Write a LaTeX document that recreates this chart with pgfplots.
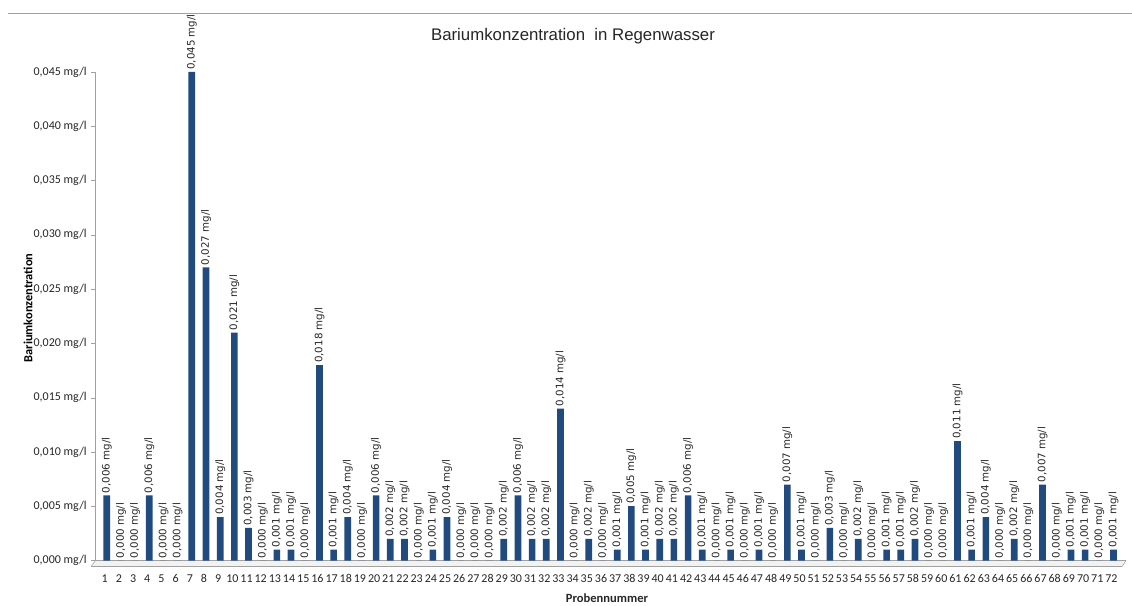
\documentclass[border=0pt]{standalone}
\usepackage{fontspec}
\setmainfont{Carlito}
\newfontfamily\barfont{DejaVu Sans}
\newfontfamily\titlefont{Liberation Sans}
\usepackage{pgfplots}
\usepackage{pgfplotstable}
\pgfplotsset{compat=1.18}
\definecolor{barblue}{RGB}{33,74,126}
\definecolor{bardark}{RGB}{22,52,92}
\definecolor{axisgray}{RGB}{160,160,160}

\pgfplotstableread{
x y
1 0.006
2 0
3 0
4 0.006
5 0
6 0
7 0.045
8 0.027
9 0.004
10 0.021
11 0.003
12 0
13 0.001
14 0.001
15 0
16 0.018
17 0.001
18 0.004
19 0
20 0.006
21 0.002
22 0.002
23 0
24 0.001
25 0.004
26 0
27 0
28 0
29 0.002
30 0.006
31 0.002
32 0.002
33 0.014
34 0
35 0.002
36 0
37 0.001
38 0.005
39 0.001
40 0.002
41 0.002
42 0.006
43 0.001
44 0
45 0.001
46 0
47 0.001
48 0
49 0.007
50 0.001
51 0
52 0.003
53 0
54 0.002
55 0
56 0.001
57 0.001
58 0.002
59 0
60 0
61 0.011
62 0.001
63 0.004
64 0
65 0.002
66 0
67 0.007
68 0
69 0.001
70 0.001
71 0
72 0.001
}\datatable

\begin{document}
\begin{tikzpicture}
\path[use as bounding box] (0,0) rectangle (849pt,454.5pt);
\draw[axisgray, line width=0.8pt] (6pt,444.5pt) -- (849pt,444.5pt);
\begin{axis}[
  at={(71.55pt,34.1pt)}, anchor=south west,
  scale only axis, width=773.1pt, height=366.4pt,
  xmin=0.2, xmax=72.9, ymin=0, ymax=0.045,
  clip=false,
  axis lines*=left,
  x axis line style={draw=none},
  y axis line style={axisgray},
  xtick={1,...,72},
  xtick style={draw=none},
  ytick={0,0.005,0.01,0.015,0.02,0.025,0.03,0.035,0.04,0.045},
  ytick style={axisgray},
  tick align=outside,
  major tick length=3pt,
  scaled y ticks=false,
  yticklabel={\pgfmathprintnumber[fixed,fixed zerofill,precision=3,use comma]{\tick}~mg/l},
  /pgf/number format/assume math mode=true,
  tick label style={font=\fontsize{9}{10}\selectfont, text=black!85},
  xticklabel style={yshift=-4pt, xshift=-1.5pt},
  ybar, bar width=5pt,
  nodes near coords={\pgfmathprintnumber[fixed,fixed zerofill,precision=3,use comma]{\pgfplotspointmeta}~mg/l},
  nodes near coords style={rotate=90, anchor=west, inner sep=1.5pt,
    font=\barfont\fontsize{7.7}{9}\selectfont, text=black!85},
]
\fill[gray!10] (axis cs:0.2,0) -- (axis cs:72.9,0) -- (axis cs:72.6,-0.00055) -- (axis cs:-0.1,-0.00055) -- cycle;
\draw[axisgray] (axis cs:0.2,0) -- (axis cs:72.9,0);
\draw[axisgray] (axis cs:-0.1,-0.00055) -- (axis cs:72.6,-0.00055) -- (axis cs:72.9,0);
\draw[axisgray] (axis cs:0.2,0) -- (axis cs:-0.1,-0.00055);
\addplot[ybar, fill=barblue, draw=none] table[x=x,y=y]{\datatable};
\end{axis}
\node[font=\titlefont\fontsize{12.6}{14}\selectfont, text=black!85] at (429.75pt,427.5pt) {Bariumkonzentration\ \ in Regenwasser};
\node[rotate=90, font=\bfseries\fontsize{9.3}{11}\selectfont] at (21pt,223.5pt) {Bariumkonzentration};
\node[font=\bfseries\fontsize{9.4}{11}\selectfont, text=black!85] at (455.25pt,6pt) {Probennummer};
\end{tikzpicture}
\end{document}
